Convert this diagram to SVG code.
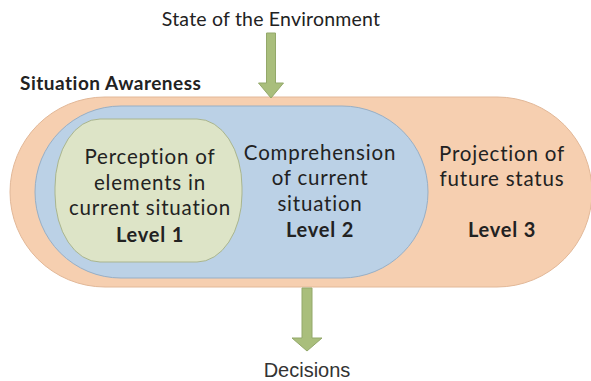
<svg xmlns="http://www.w3.org/2000/svg" width="591" height="381" viewBox="0 0 591 381">
<style>
.t{font-family:Lato,"Open Sans","Liberation Sans",sans-serif;font-size:20.5px;letter-spacing:0.8px;fill:#222;text-anchor:middle}
.b{font-weight:bold;font-size:20px}
.arrow{fill:#A9BE7C;stroke:#93A86A;stroke-width:1}
</style>
<rect width="591" height="381" fill="#fff"/>
<g id="awareness">
<rect x="10" y="97" width="582" height="190" rx="95" ry="95" fill="#F6CFB0" stroke="#E2B898" stroke-width="1"/>
<text class="t b" x="20" y="90" style="text-anchor:start;font-size:19px;letter-spacing:0.5px">Situation Awareness</text>
<text class="t" x="502" y="161">Projection of</text>
<text class="t" x="502" y="186">future status</text>
<text class="t b" x="502" y="237">Level 3</text>
</g>
<g id="level2">
<rect x="35" y="106" width="393" height="172" rx="86" ry="86" fill="#BBD1E6" stroke="#97AFC6" stroke-width="1"/>
<text class="t" x="320" y="160">Comprehension</text>
<text class="t" x="320" y="185">of current</text>
<text class="t" x="320" y="211">situation</text>
<text class="t b" x="320" y="237">Level 2</text>
</g>
<g id="level1">
<rect x="55" y="119" width="187" height="143" rx="45" ry="68" fill="#DDE4C7" stroke="#A9B58F" stroke-width="1"/>
<text class="t" x="150" y="164">Perception of</text>
<text class="t" x="150" y="190">elements in</text>
<text class="t" x="150" y="215">current situation</text>
<text class="t b" x="150" y="242">Level 1</text>
</g>
<g id="environment">
<text class="t" x="271" y="26" style="font-size:19.5px;letter-spacing:0.2px">State of the Environment</text>
</g>
<g id="decisions">
<text class="t" x="307" y="377" style="font-family:'Liberation Sans',Arial,sans-serif;fill:#333;font-size:20px;letter-spacing:0">Decisions</text>
</g>
<g id="connectors">
<path class="arrow" d="M266.5,33 H275.5 V83 H283.5 L271,98 L258.5,83 H266.5 Z"/>
<path class="arrow" d="M302,288 H312 V338 H322 L307,351 L292,338 H302 Z"/>
</g>
</svg>
